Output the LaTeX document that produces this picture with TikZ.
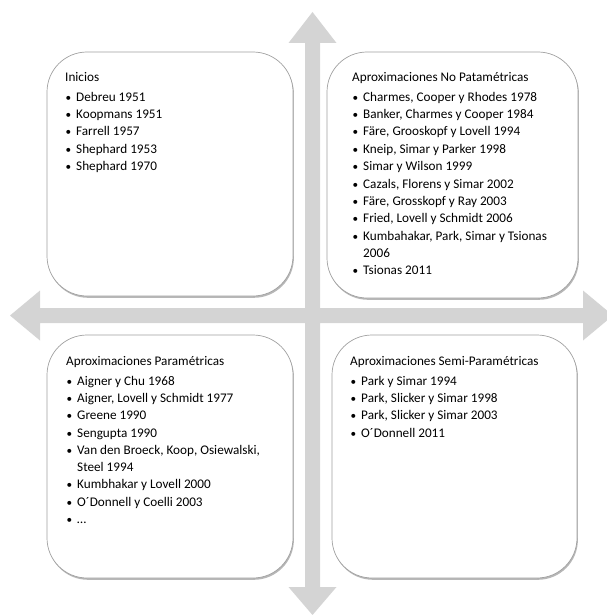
\documentclass[tikz,border=0pt]{standalone}
\usepackage{fontspec}
\setmainfont{Carlito}
\usetikzlibrary{shadows}
\definecolor{arrowgray}{HTML}{D4D4D4}
\definecolor{boxline}{HTML}{A0A0A0}
\newcommand{\bl}{\makebox[11pt][l]{\hspace{0.5pt}\scalebox{0.85}{\textbullet}}}
\newcommand{\ind}{\hspace*{11pt}}
\tikzset{
  bigarrow/.style={fill=arrowgray, draw=none},
  quadbox/.style={draw=boxline, line width=0.7pt, fill=white, rounded corners=40pt,
    rectangle, inner sep=0pt,
    drop shadow={shadow xshift=0.9pt, shadow yshift=-1.8pt, opacity=0.4, fill=black!70}},
  boxtext/.style={anchor=north west, inner sep=0pt, align=left,
    font=\fontsize{13.2}{16.8}\selectfont}
}
\begin{document}
\begin{tikzpicture}[x=1pt,y=-1pt]
\useasboundingbox (0,0) rectangle (606,615);
% cross arrows
\coordinate (vtop) at (312.5,12);
\coordinate (vbot) at (312.5,615);
\coordinate (hleft) at (10,315.5);
\coordinate (hright) at (613,315.5);
\fill[bigarrow] (vtop) -- (336.5,43) -- (320,43) -- (320,308) -- (583,308) -- (583,290.5)
  -- (hright) -- (583,340.5) -- (583,323) -- (320,323) -- (320,587) -- (336.5,587)
  -- (vbot) -- (288.5,587) -- (305,587) -- (305,323) -- (40,323) -- (40,340.5)
  -- (hleft) -- (40,290.5) -- (40,308) -- (305,308) -- (305,43) -- (288.5,43) -- cycle;
% boxes
\node[quadbox, minimum width=246pt, minimum height=244pt] (tl) at (170,174) {};
\node[quadbox, minimum width=251pt, minimum height=246pt] (tr) at (452.5,175) {};
\node[quadbox, minimum width=246pt, minimum height=243pt] (bl) at (170,456.5) {};
\node[quadbox, minimum width=245pt, minimum height=243pt] (br) at (454.5,456.5) {};
% texts
\node[boxtext] (tltext) at (65,72) {Inicios\\[3pt]
\bl Debreu 1951\\[0.6pt]
\bl Koopmans 1951\\[0.6pt]
\bl Farrell 1957\\[0.6pt]
\bl Shephard 1953\\[0.6pt]
\bl Shephard 1970};
\node[boxtext] (trtext) at (352,72) {Aproximaciones No Patamétricas\\[3pt]
\bl Charmes, Cooper y Rhodes 1978\\[0.6pt]
\bl Banker, Charmes y Cooper 1984\\[0.6pt]
\bl Färe, Grooskopf y Lovell 1994\\[0.6pt]
\bl Kneip, Simar y Parker 1998\\[0.6pt]
\bl Simar y Wilson 1999\\[0.6pt]
\bl Cazals, Florens y Simar 2002\\[0.6pt]
\bl Färe, Grosskopf y Ray 2003\\[0.6pt]
\bl Fried, Lovell y Schmidt 2006\\[0.6pt]
\bl Kumbahakar, Park, Simar y Tsionas\\
\ind 2006\\[0.6pt]
\bl Tsionas 2011};
\node[boxtext] (bltext) at (66,356) {Aproximaciones Paramétricas\\[3pt]
\bl Aigner y Chu 1968\\[0.6pt]
\bl Aigner, Lovell y Schmidt 1977\\[0.6pt]
\bl Greene 1990\\[0.6pt]
\bl Sengupta 1990\\[0.6pt]
\bl Van den Broeck, Koop, Osiewalski,\\
\ind Steel 1994\\[0.6pt]
\bl Kumbhakar y Lovell 2000\\[0.6pt]
\bl O´Donnell y Coelli 2003\\[0.6pt]
\bl …};
\node[boxtext] (brtext) at (350,356) {Aproximaciones Semi-Paramétricas\\[3pt]
\bl Park y Simar 1994\\[0.6pt]
\bl Park, Slicker y Simar 1998\\[0.6pt]
\bl Park, Slicker y Simar 2003\\[0.6pt]
\bl O´Donnell 2011};
\end{tikzpicture}
\end{document}
